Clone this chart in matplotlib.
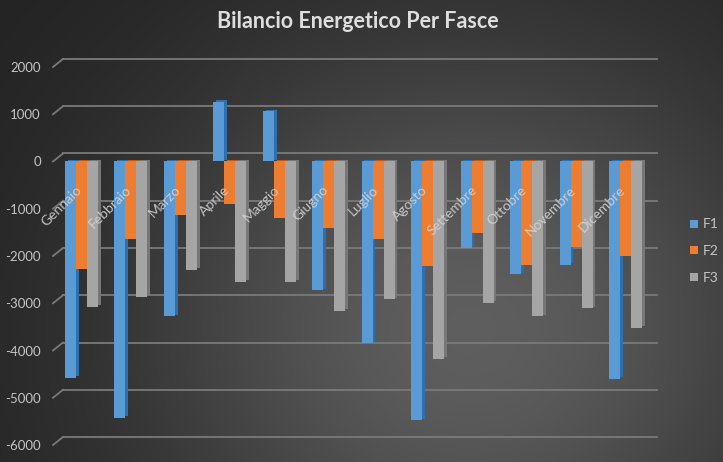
import numpy as np
import matplotlib
matplotlib.use("Agg")
import matplotlib.pyplot as plt
from matplotlib.transforms import offset_copy, IdentityTransform
from matplotlib.lines import Line2D

months = ["Gennaio", "Febbraio", "Marzo", "Aprile", "Maggio", "Giugno",
          "Luglio", "Agosto", "Settembre", "Ottobre", "Novembre", "Dicembre"]
f1 = [-4590, -5420, -3280, 1260, 1060, -2730, -3850, -5480, -1840, -2390, -2180, -4610]
f2 = [-2265, -1650, -1140, -890, -1190, -1400, -1650, -2220, -1520, -2180, -1820, -1990]
f3 = [-3070, -2860, -2300, -2540, -2540, -3170, -2920, -4170, -3000, -3280, -3110, -3530]
series_names = ["F1", "F2", "F3"]
yticks = list(range(-6000, 2001, 1000))

front_cols = ["#5b9bd5", "#ed7d31", "#a5a5a5"]
side_cols = ["#2e6fae", "#b85a1c", "#777777"]
txt_col = "#c4c4c4"

W, H = 723, 462
fig = plt.figure(figsize=(W / 100, H / 100), dpi=100)

# background radial gradient
bg = fig.add_axes([0, 0, 1, 1], zorder=-10)
yy, xx = np.mgrid[0:H, 0:W]
d = np.sqrt(((xx - 470) / 1.0) ** 2 + ((yy - 330) / 0.9) ** 2)
g = np.exp(-(d / 340.0) ** 2)
dark, light = 0.13, 0.37
img = dark + (light - dark) * g
bg.imshow(np.dstack([img, img, img]), aspect="auto", extent=[0, 1, 0, 1], origin="upper")
bg.axis("off")

ax = fig.add_axes([63 / W, 1 - 445 / H, 594 / W, 378 / H])
ax.patch.set_alpha(0)
for s in ax.spines.values():
    s.set_visible(False)
ax.set_xlim(-0.374, 11.637)
ax.set_ylim(-6000, 2000)
ax.set_xticks([])
ax.set_yticks(yticks)
ax.set_yticklabels([str(v) for v in yticks])
ax.tick_params(axis="y", length=0, pad=16, labelcolor=txt_col, labelsize=9.5)
for lab in ax.get_yticklabels():
    lab.set_family("Lato")

# 3D-like gridlines (back wall shifted up, with a diagonal stub)
fig.canvas.draw()
tA = offset_copy(ax.get_yaxis_transform(), fig=fig, x=-10, y=0, units="dots")
tB = offset_copy(ax.get_yaxis_transform(), fig=fig, x=0, y=8, units="dots")
for v in yticks:
    ax.plot([0, 1], [v, v], transform=tB, color="#7a7a7a", lw=1.3, zorder=0.5, clip_on=False)
    pA = tA.transform((0, v))
    pB = tB.transform((0, v))
    ax.add_line(Line2D([pA[0], pB[0]], [pA[1], pB[1]], transform=IdentityTransform(),
                       color="#7a7a7a", lw=1.3, zorder=0.5, clip_on=False))

x = np.arange(len(months))
w = 0.222
offs = [-w, 0, w]
data = [f1, f2, f3]
for k in range(3):
    ax.bar(x + offs[k] + 0.055, data[k], width=w, bottom=40, color=side_cols[k], zorder=2, linewidth=0)
for k in range(3):
    ax.bar(x + offs[k], data[k], width=w, color=front_cols[k], zorder=3, linewidth=0,
           label=series_names[k])

for i, m in enumerate(months):
    ax.text(i - 0.04, -560, m, rotation=45, rotation_mode="anchor", ha="right", va="center",
            color="#d4d4d4", fontsize=10, family="Lato", zorder=6, alpha=0.9)

fig.text(358 / W, 1 - 22 / H, "Bilancio Energetico Per Fasce", ha="center", va="center",
         fontsize=15.5, weight="bold", color="#dedede", family="Lato")

handles = [Line2D([], [], marker="s", linestyle="none", markersize=5.5,
                  markerfacecolor=c, markeredgewidth=0) for c in front_cols]
fig.legend(handles, series_names, loc="center left", bbox_to_anchor=(682 / W, 1 - 251 / H),
           frameon=False, labelcolor=txt_col, prop={"family": "Lato", "size": 10},
           handlelength=0.7, handletextpad=0.3, labelspacing=1.05, borderpad=0)

fig.savefig("out.png", dpi=100)
